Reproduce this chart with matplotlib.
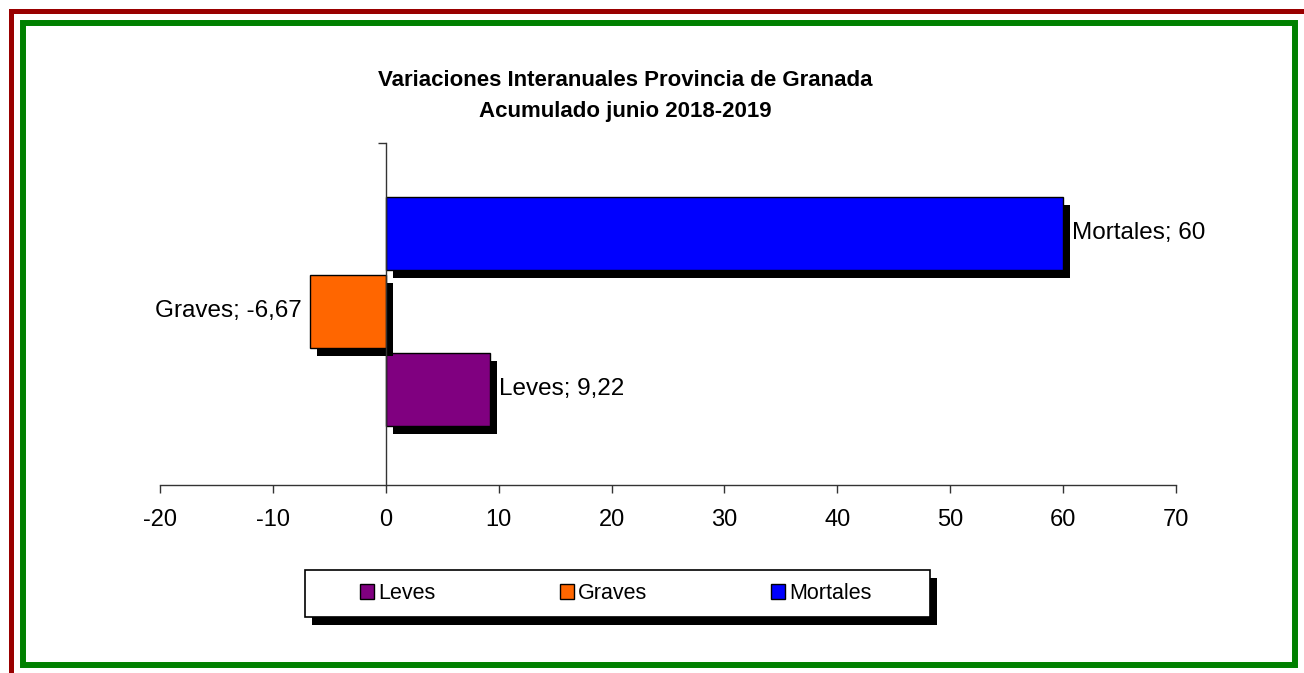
import matplotlib.pyplot as plt
import matplotlib.patheffects as pe
from matplotlib.patches import Rectangle, Patch

plt.rcParams['font.family'] = ['Liberation Sans', 'DejaVu Sans']

categorias = ['Leves', 'Graves', 'Mortales']
valores = [9.22, -6.67, 60]
colores = ['#800080', '#FF6600', '#0000FF']
xticks = [-20, -10, 0, 10, 20, 30, 40, 50, 60, 70]

W, H = 1304, 673
fig = plt.figure(figsize=(W / 100, H / 100), dpi=100)

# marcos exteriores (rojo y verde), en pixeles de la figura
fig.patches.append(Rectangle((10.5 / W, -30 / H), (W + 40) / W, (H - 10.5 + 30) / H,
                             transform=fig.transFigure, fill=False, ec='#990000', lw=3.6))
fig.patches.append(Rectangle((23 / W, (H - 665) / H), (1295 - 23) / W, (665 - 23) / H,
                             transform=fig.transFigure, fill=False, ec='#008000', lw=4.3))

ax = fig.add_axes([160 / W, (H - 485) / H, (1176 - 160) / W, (485 - 143) / H])

sombra = [pe.SimplePatchShadow(offset=(5, -6), shadow_rgbFace='black', alpha=1), pe.Normal()]
ypos = list(range(len(categorias)))
barras = ax.barh(ypos, valores, height=0.936, color=colores, edgecolor='black', linewidth=1)
for b in barras:
    b.set_path_effects(sombra)

for y, v, c in zip(ypos, valores, categorias):
    txt = f"{c}; {v:g}".replace('.', ',')
    if v >= 0:
        ax.annotate(txt, (v, y), xytext=(6.5, 0), textcoords='offset points',
                    ha='left', va='center', fontsize=17.5)
    else:
        ax.annotate(txt, (v, y), xytext=(-6, 0), textcoords='offset points',
                    ha='right', va='center', fontsize=17.5)

ax.set_xlim(-20, 70)
ax.set_ylim(-1.23, 3.154)
ax.set_xticks(xticks)
ax.set_xticklabels([str(t) for t in xticks], fontsize=17)
ax.set_yticks([3.154])
ax.set_yticklabels([])
ax.tick_params(axis='x', direction='out', length=6, width=1, color='#333333', pad=11.5)
ax.tick_params(axis='y', direction='out', length=6, width=1, color='#333333')
ax.spines['left'].set_position(('data', 0))
for s in ['top', 'right']:
    ax.spines[s].set_visible(False)
for s in ['left', 'bottom']:
    ax.spines[s].set_color('#333333')
    ax.spines[s].set_linewidth(1)

fig.text(625 / W, 1 - 96 / H, 'Variaciones Interanuales Provincia de Granada\nAcumulado junio 2018-2019',
         ha='center', va='center', fontsize=16, fontweight='bold', linespacing=1.6)

# caja de la leyenda con sombra negra
caja = Rectangle((305 / W, (H - 617) / H), 625 / W, 47 / H, transform=fig.transFigure,
                 facecolor='white', edgecolor='black', lw=1.2)
caja.set_path_effects([pe.SimplePatchShadow(offset=(5, -6), shadow_rgbFace='black', alpha=1), pe.Normal()])
fig.patches.append(caja)

handles = [Patch(facecolor=c, edgecolor='black', linewidth=1) for c in colores]
leg = fig.legend(handles, categorias, loc='center', ncol=3, mode='expand',
                 bbox_to_anchor=(360 / W, (H - 617) / H, (872 - 360) / W, 47 / H), borderaxespad=0,
                 fontsize=15.5, frameon=False, handlelength=0.65,
                 handleheight=0.65, handletextpad=0.2, borderpad=0)

fig.savefig('out.png', dpi=100)
